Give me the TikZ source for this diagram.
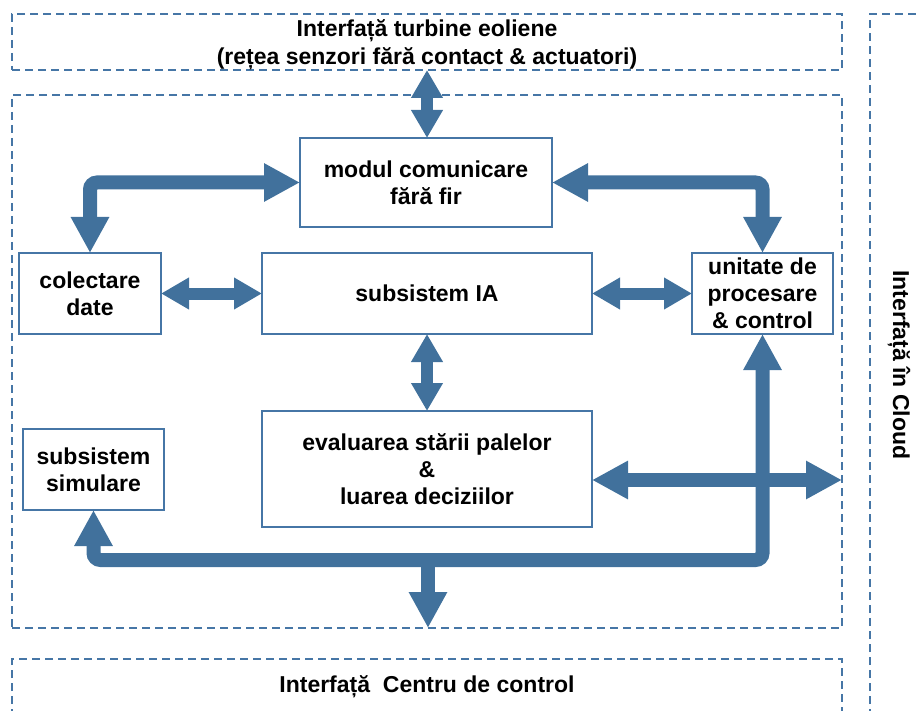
\documentclass[tikz,border=0pt]{standalone}
\usepackage{fontspec}
\setmainfont{Liberation Sans}
\usetikzlibrary{arrows.meta}
\definecolor{flowblue}{RGB}{65,113,156}
\definecolor{edgeblue}{RGB}{70,118,166}
\tikzset{
  BigTip/.tip={Triangle[length=36pt,width=36pt]},
  SmallTip/.tip={Triangle[length=28pt,width=30pt]},
}
\begin{document}
\begin{tikzpicture}[x=1pt,y=-1pt,
  font=\fontsize{23}{27}\selectfont\bfseries,
  block/.style={draw=edgeblue, line width=1.8pt, fill=white, align=center,
    inner sep=0pt, outer sep=0pt},
  zone/.style={draw=edgeblue, line width=1.3pt, dash pattern=on 8pt off 5pt,
    inner sep=0pt, outer sep=0pt, align=center},
  bigflow/.style={draw=flowblue, line width=14pt, rounded corners=7pt},
  smallflow/.style={draw=flowblue, line width=12pt, SmallTip-SmallTip},
]
\useasboundingbox (0,0) rectangle (920,711);

% outer interface zones
\node[zone, minimum width=830pt, minimum height=56pt] (turb) at (427,42) {};
\node[align=center, font=\fontsize{23}{28}\selectfont\bfseries] (turbtext)
  at (427,44.5) {Interfață turbine eoliene\\(rețea senzori fără contact \& actuatori)};
\node[zone, minimum width=830pt, minimum height=533pt] (main) at (427,361.5) {};
\draw[zone] (870,730) -- (870,14) -- (940,14);
\node[rotate=-90] (cloud) at (899,365) {Interfață în Cloud};
\draw[zone] (12,730) -- (12,659) -- (842,659) -- (842,730);
\node (ctrl) at (427,687) {Interfață~~Centru de control};

% functional blocks
\node[block, minimum width=252pt, minimum height=89pt] (mod) at (426,182.5)
  {modul comunicare\\fără fir};
\node[block, minimum width=142pt, minimum height=81pt] (col) at (90,293.5)
  {colectare\\date};
\node[block, minimum width=330pt, minimum height=81pt] (ia) at (427,293.5)
  {subsistem IA};
\node[block, minimum width=141pt, minimum height=81pt] (unit) at (762.5,293.5)
  {unitate de\\procesare\\\& control};
\node[block, minimum width=141pt, minimum height=81pt] (sim) at (93.5,469.5)
  {subsistem\\simulare};
\node[block, minimum width=330pt, minimum height=116pt] (eval) at (427,469)
  {evaluarea stării palelor\\\&\\luarea deciziilor};

% bus points
\coordinate (busY) at (0,560);
\coordinate (busDrop) at (428,560);
\coordinate (evalOut) at (842,480);

% connectors
\draw[smallflow] (turb.south) -- (turb.south |- mod.north);
\draw[bigflow, BigTip-BigTip] (col.north) |- (mod.west);
\draw[bigflow, BigTip-BigTip] (mod.east) -| (unit.north);
\draw[smallflow] (col.east) -- (ia.west);
\draw[smallflow] (ia.east) -- (unit.west);
\draw[smallflow] (ia.south) -- (eval.north);
\draw[bigflow, BigTip-BigTip] (sim.south) -- (sim.south |- busY)
  -- (unit.south |- busY) -- (unit.south);
\draw[bigflow, -BigTip] (busDrop) -- (busDrop |- main.south);
\draw[bigflow, BigTip-BigTip] (eval.east |- evalOut) -- (evalOut);
\end{tikzpicture}
\end{document}
